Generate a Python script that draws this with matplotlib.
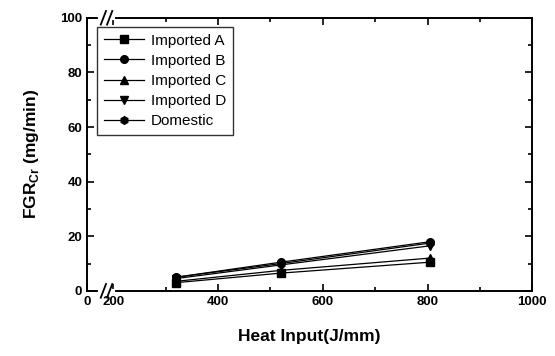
import matplotlib
matplotlib.use("Agg")
from matplotlib import pyplot as plt
from matplotlib.ticker import MultipleLocator
import matplotlib.transforms as mtransforms

plt.rcParams['font.family'] = ['Liberation Sans', 'DejaVu Sans']
plt.rcParams['font.weight'] = 'bold'

heat_input = [320, 520, 805]
imported_a = [3.0, 6.5, 10.5]
imported_b = [5.0, 10.5, 18.0]
imported_c = [3.5, 7.5, 12.0]
imported_d = [4.5, 9.5, 16.5]
domestic = [5.0, 10.0, 17.5]

series = [
    ("Imported A", imported_a, "s"),
    ("Imported B", imported_b, "o"),
    ("Imported C", imported_c, "^"),
    ("Imported D", imported_d, "v"),
    ("Domestic", domestic, "h"),
]

xticks = [150, 200, 400, 600, 800, 1000]
xticklabels = ["0", "200", "400", "600", "800", "1000"]

fig = plt.figure(figsize=(5.55, 3.56), dpi=100)
ax = fig.add_axes([0.157, 0.183, 0.802, 0.767])

for name, vals, mk in series:
    ax.plot(heat_input, vals, color="black", lw=0.9, marker=mk, ms=5.5, label=name)

ax.set_xlim(150, 1000)
ax.set_ylim(0, 100)
ax.set_xticks(xticks)
ax.set_xticklabels(xticklabels)
ax.xaxis.set_minor_locator(MultipleLocator(100))
ax.yaxis.set_major_locator(MultipleLocator(20))
ax.yaxis.set_minor_locator(MultipleLocator(10))
ax.tick_params(which="both", direction="in", labelsize=9.5, width=1.2, top=True, right=True)
ax.tick_params(which="major", length=5)
ax.tick_params(which="minor", length=3)
for s in ax.spines.values():
    s.set_linewidth(1.4)

# axis break marks on the top and bottom spines
trans = mtransforms.blended_transform_factory(ax.transData, ax.transAxes)
for y in (0.0, 1.0):
    ax.plot([174, 200], [y, y], color="white", lw=3, transform=trans, clip_on=False, zorder=5)
    for xc in (181, 193):
        ax.plot([xc - 5, xc + 5], [y - 0.025, y + 0.025], color="black", lw=1.3,
                transform=trans, clip_on=False, zorder=6)

ax.set_xlabel("Heat Input(J/mm)", fontsize=12.5, fontweight="bold", labelpad=15)
ax.set_ylabel("FGR$_{\\mathregular{Cr}}$ (mg/min)", fontsize=12.5, fontweight="bold", labelpad=14)

leg = ax.legend(loc="upper left", bbox_to_anchor=(0.005, 0.995),
                prop={"size": 11, "weight": "normal"},
                frameon=True, fancybox=False, edgecolor="black", handlelength=2.6,
                borderpad=0.45, labelspacing=0.4, handletextpad=0.5)
leg.get_frame().set_linewidth(1.0)

fig.savefig("out.png", dpi=100)
